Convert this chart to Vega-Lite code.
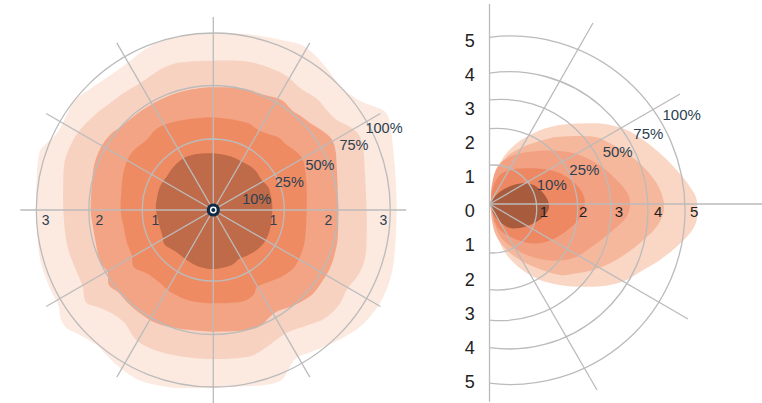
{
"$schema": "https://vega.github.io/schema/vega-lite/v6.json",
"padding": 0,
"spacing": 0,
"background": "white",
"config": {"view": {"stroke": null}, "concat": {"spacing": 0}},
"resolve": {"scale": {"x": "independent", "y": "independent", "radius": "independent", "theta": "independent"}},
"datasets": {
"L": [
{"level":"100%","i":1,"x":-3.533,"y":0},{"level":"100%","i":2,"x":-3.533,"y":0.6},{"level":"100%","i":3,"x":-3.48,"y":1.133},{"level":"100%","i":4,"x":-3.333,"y":1.333},{"level":"100%","i":5,"x":-3.1,"y":1.567},{"level":"100%","i":6,"x":-2.933,"y":1.9},{"level":"100%","i":7,"x":-2.767,"y":2.2},{"level":"100%","i":8,"x":-2.45,"y":2.43},{"level":"100%","i":9,"x":-2.05,"y":2.7},{"level":"100%","i":10,"x":-1.7,"y":2.95},{"level":"100%","i":11,"x":-1.433,"y":3.167},{"level":"100%","i":12,"x":-1.1,"y":3.347},{"level":"100%","i":13,"x":-0.533,"y":3.5},{"level":"100%","i":14,"x":0,"y":3.533},{"level":"100%","i":15,"x":0.7,"y":3.513},{"level":"100%","i":16,"x":1.367,"y":3.4},{"level":"100%","i":17,"x":1.767,"y":3.3},{"level":"100%","i":18,"x":2.0,"y":3.13},{"level":"100%","i":19,"x":2.17,"y":2.95},{"level":"100%","i":20,"x":2.33,"y":2.75},{"level":"100%","i":21,"x":2.5,"y":2.53},{"level":"100%","i":22,"x":2.68,"y":2.35},{"level":"100%","i":23,"x":2.967,"y":2.167},{"level":"100%","i":24,"x":3.233,"y":2.067},{"level":"100%","i":25,"x":3.433,"y":1.967},{"level":"100%","i":26,"x":3.533,"y":1.733},{"level":"100%","i":27,"x":3.6,"y":1.2},{"level":"100%","i":28,"x":3.647,"y":0.6},{"level":"100%","i":29,"x":3.667,"y":0},{"level":"100%","i":30,"x":3.647,"y":-0.567},{"level":"100%","i":31,"x":3.6,"y":-1.1},{"level":"100%","i":32,"x":3.5,"y":-1.5},{"level":"100%","i":33,"x":3.333,"y":-1.867},{"level":"100%","i":34,"x":3.133,"y":-2.133},{"level":"100%","i":35,"x":2.9,"y":-2.367},{"level":"100%","i":36,"x":2.633,"y":-2.533},{"level":"100%","i":37,"x":2.3,"y":-2.7},{"level":"100%","i":38,"x":1.967,"y":-2.833},{"level":"100%","i":39,"x":1.667,"y":-2.953},{"level":"100%","i":40,"x":1.513,"y":-3.167},{"level":"100%","i":41,"x":1.367,"y":-3.4},{"level":"100%","i":42,"x":1.033,"y":-3.5},{"level":"100%","i":43,"x":0.433,"y":-3.533},{"level":"100%","i":44,"x":0,"y":-3.55},{"level":"100%","i":45,"x":-0.533,"y":-3.567},{"level":"100%","i":46,"x":-0.933,"y":-3.533},{"level":"100%","i":47,"x":-1.4,"y":-3.433},{"level":"100%","i":48,"x":-1.667,"y":-3.3},{"level":"100%","i":49,"x":-1.933,"y":-3.1},{"level":"100%","i":50,"x":-2.133,"y":-2.9},{"level":"100%","i":51,"x":-2.333,"y":-2.7},{"level":"100%","i":52,"x":-2.667,"y":-2.5},{"level":"100%","i":53,"x":-2.933,"y":-2.367},{"level":"100%","i":54,"x":-3.053,"y":-2.167},{"level":"100%","i":55,"x":-3.1,"y":-1.9},{"level":"100%","i":56,"x":-3.267,"y":-1.567},{"level":"100%","i":57,"x":-3.453,"y":-1.033},{"level":"100%","i":58,"x":-3.52,"y":-0.5},
{"level":"75%","i":1,"x":-3.0,"y":0},{"level":"75%","i":2,"x":-3.0,"y":0.6},{"level":"75%","i":3,"x":-2.967,"y":1.0},{"level":"75%","i":4,"x":-2.833,"y":1.333},{"level":"75%","i":5,"x":-2.667,"y":1.6},{"level":"75%","i":6,"x":-2.333,"y":1.933},{"level":"75%","i":7,"x":-2.067,"y":2.133},{"level":"75%","i":8,"x":-1.8,"y":2.333},{"level":"75%","i":9,"x":-1.467,"y":2.533},{"level":"75%","i":10,"x":-1.133,"y":2.767},{"level":"75%","i":11,"x":-0.8,"y":2.92},{"level":"75%","i":12,"x":-0.4,"y":2.973},{"level":"75%","i":13,"x":0,"y":2.987},{"level":"75%","i":14,"x":0.7,"y":2.967},{"level":"75%","i":15,"x":1.233,"y":2.8},{"level":"75%","i":16,"x":1.5,"y":2.653},{"level":"75%","i":17,"x":1.7,"y":2.467},{"level":"75%","i":18,"x":1.9,"y":2.333},{"level":"75%","i":19,"x":2.1,"y":2.2},{"level":"75%","i":20,"x":2.267,"y":2.0},{"level":"75%","i":21,"x":2.467,"y":1.8},{"level":"75%","i":22,"x":2.733,"y":1.667},{"level":"75%","i":23,"x":2.913,"y":1.5},{"level":"75%","i":24,"x":3.0,"y":1.2},{"level":"75%","i":25,"x":3.033,"y":0.733},{"level":"75%","i":26,"x":3.067,"y":0},{"level":"75%","i":27,"x":3.067,"y":-0.567},{"level":"75%","i":28,"x":3.033,"y":-0.967},{"level":"75%","i":29,"x":2.9,"y":-1.3},{"level":"75%","i":30,"x":2.687,"y":-1.567},{"level":"75%","i":31,"x":2.513,"y":-1.9},{"level":"75%","i":32,"x":2.233,"y":-2.167},{"level":"75%","i":33,"x":1.9,"y":-2.3},{"level":"75%","i":34,"x":1.513,"y":-2.433},{"level":"75%","i":35,"x":1.3,"y":-2.567},{"level":"75%","i":36,"x":1.033,"y":-2.767},{"level":"75%","i":37,"x":0.7,"y":-2.933},{"level":"75%","i":38,"x":0.033,"y":-2.98},{"level":"75%","i":39,"x":-0.6,"y":-2.933},{"level":"75%","i":40,"x":-1.067,"y":-2.833},{"level":"75%","i":41,"x":-1.4,"y":-2.7},{"level":"75%","i":42,"x":-1.6,"y":-2.533},{"level":"75%","i":43,"x":-1.767,"y":-2.267},{"level":"75%","i":44,"x":-2.033,"y":-2.067},{"level":"75%","i":45,"x":-2.3,"y":-1.947},{"level":"75%","i":46,"x":-2.547,"y":-1.847},{"level":"75%","i":47,"x":-2.613,"y":-1.533},{"level":"75%","i":48,"x":-2.747,"y":-1.2},{"level":"75%","i":49,"x":-2.867,"y":-0.9},{"level":"75%","i":50,"x":-2.947,"y":-0.567},
{"level":"50%","i":1,"x":-2.453,"y":0},{"level":"50%","i":2,"x":-2.433,"y":0.467},{"level":"50%","i":3,"x":-2.4,"y":0.8},{"level":"50%","i":4,"x":-2.333,"y":1.067},{"level":"50%","i":5,"x":-2.2,"y":1.333},{"level":"50%","i":6,"x":-2.033,"y":1.533},{"level":"50%","i":7,"x":-1.833,"y":1.68},{"level":"50%","i":8,"x":-1.6,"y":1.867},{"level":"50%","i":9,"x":-1.333,"y":2.053},{"level":"50%","i":10,"x":-1.0,"y":2.233},{"level":"50%","i":11,"x":-0.667,"y":2.36},{"level":"50%","i":12,"x":-0.333,"y":2.427},{"level":"50%","i":13,"x":0,"y":2.453},{"level":"50%","i":14,"x":0.567,"y":2.433},{"level":"50%","i":15,"x":1.033,"y":2.3},{"level":"50%","i":16,"x":1.367,"y":2.2},{"level":"50%","i":17,"x":1.567,"y":2.0},{"level":"50%","i":18,"x":1.767,"y":1.867},{"level":"50%","i":19,"x":1.967,"y":1.72},{"level":"50%","i":20,"x":2.233,"y":1.547},{"level":"50%","i":21,"x":2.38,"y":1.4},{"level":"50%","i":22,"x":2.447,"y":1.167},{"level":"50%","i":23,"x":2.473,"y":0.8},{"level":"50%","i":24,"x":2.5,"y":0},{"level":"50%","i":25,"x":2.487,"y":-0.567},{"level":"50%","i":26,"x":2.433,"y":-0.867},{"level":"50%","i":27,"x":2.333,"y":-1.167},{"level":"50%","i":28,"x":2.167,"y":-1.447},{"level":"50%","i":29,"x":1.967,"y":-1.7},{"level":"50%","i":30,"x":1.633,"y":-1.9},{"level":"50%","i":31,"x":1.267,"y":-2.033},{"level":"50%","i":32,"x":1.1,"y":-2.167},{"level":"50%","i":33,"x":0.967,"y":-2.3},{"level":"50%","i":34,"x":0.7,"y":-2.4},{"level":"50%","i":35,"x":0.033,"y":-2.433},{"level":"50%","i":36,"x":-0.4,"y":-2.407},{"level":"50%","i":37,"x":-0.733,"y":-2.367},{"level":"50%","i":38,"x":-1.133,"y":-2.267},{"level":"50%","i":39,"x":-1.467,"y":-2.067},{"level":"50%","i":40,"x":-1.733,"y":-1.833},{"level":"50%","i":41,"x":-1.9,"y":-1.647},{"level":"50%","i":42,"x":-2.087,"y":-1.5},{"level":"50%","i":43,"x":-2.12,"y":-1.233},{"level":"50%","i":44,"x":-2.267,"y":-1.033},{"level":"50%","i":45,"x":-2.353,"y":-0.633},{"level":"50%","i":46,"x":-2.413,"y":-0.3},
{"level":"25%","i":1,"x":-1.853,"y":0},{"level":"25%","i":2,"x":-1.833,"y":0.467},{"level":"25%","i":3,"x":-1.8,"y":0.733},{"level":"25%","i":4,"x":-1.733,"y":0.967},{"level":"25%","i":5,"x":-1.6,"y":1.187},{"level":"25%","i":6,"x":-1.333,"y":1.4},{"level":"25%","i":7,"x":-1.167,"y":1.6},{"level":"25%","i":8,"x":-0.933,"y":1.72},{"level":"25%","i":9,"x":-0.6,"y":1.8},{"level":"25%","i":10,"x":-0.267,"y":1.84},{"level":"25%","i":11,"x":0,"y":1.853},{"level":"25%","i":12,"x":0.433,"y":1.8},{"level":"25%","i":13,"x":0.7,"y":1.733},{"level":"25%","i":14,"x":0.9,"y":1.6},{"level":"25%","i":15,"x":1.1,"y":1.52},{"level":"25%","i":16,"x":1.3,"y":1.453},{"level":"25%","i":17,"x":1.447,"y":1.32},{"level":"25%","i":18,"x":1.633,"y":1.187},{"level":"25%","i":19,"x":1.767,"y":1.053},{"level":"25%","i":20,"x":1.833,"y":0.833},{"level":"25%","i":21,"x":1.867,"y":0.467},{"level":"25%","i":22,"x":1.867,"y":0},{"level":"25%","i":23,"x":1.847,"y":-0.433},{"level":"25%","i":24,"x":1.813,"y":-0.7},{"level":"25%","i":25,"x":1.733,"y":-0.933},{"level":"25%","i":26,"x":1.6,"y":-1.167},{"level":"25%","i":27,"x":1.367,"y":-1.333},{"level":"25%","i":28,"x":1.033,"y":-1.467},{"level":"25%","i":29,"x":0.867,"y":-1.547},{"level":"25%","i":30,"x":0.8,"y":-1.7},{"level":"25%","i":31,"x":0.567,"y":-1.833},{"level":"25%","i":32,"x":0.033,"y":-1.867},{"level":"25%","i":33,"x":-0.267,"y":-1.847},{"level":"25%","i":34,"x":-0.533,"y":-1.793},{"level":"25%","i":35,"x":-0.867,"y":-1.633},{"level":"25%","i":36,"x":-1.133,"y":-1.407},{"level":"25%","i":37,"x":-1.333,"y":-1.267},{"level":"25%","i":38,"x":-1.587,"y":-1.147},{"level":"25%","i":39,"x":-1.633,"y":-0.9},{"level":"25%","i":40,"x":-1.733,"y":-0.633},{"level":"25%","i":41,"x":-1.8,"y":-0.3},
{"level":"10%","i":1,"x":-1.147,"y":0},{"level":"10%","i":2,"x":-1.133,"y":0.2},{"level":"10%","i":3,"x":-1.067,"y":0.467},{"level":"10%","i":4,"x":-0.933,"y":0.667},{"level":"10%","i":5,"x":-0.8,"y":0.853},{"level":"10%","i":6,"x":-0.6,"y":1.033},{"level":"10%","i":7,"x":-0.333,"y":1.12},{"level":"10%","i":8,"x":0,"y":1.133},{"level":"10%","i":9,"x":0.367,"y":1.067},{"level":"10%","i":10,"x":0.633,"y":0.933},{"level":"10%","i":11,"x":0.833,"y":0.8},{"level":"10%","i":12,"x":0.967,"y":0.6},{"level":"10%","i":13,"x":1.1,"y":0.453},{"level":"10%","i":14,"x":1.167,"y":0.2},{"level":"10%","i":15,"x":1.18,"y":0},{"level":"10%","i":16,"x":1.153,"y":-0.3},{"level":"10%","i":17,"x":1.067,"y":-0.567},{"level":"10%","i":18,"x":0.913,"y":-0.767},{"level":"10%","i":19,"x":0.7,"y":-0.9},{"level":"10%","i":20,"x":0.513,"y":-0.98},{"level":"10%","i":21,"x":0.367,"y":-1.1},{"level":"10%","i":22,"x":0.033,"y":-1.18},{"level":"10%","i":23,"x":-0.267,"y":-1.14},{"level":"10%","i":24,"x":-0.533,"y":-1.0},{"level":"10%","i":25,"x":-0.747,"y":-0.833},{"level":"10%","i":26,"x":-0.967,"y":-0.7},{"level":"10%","i":27,"x":-1.013,"y":-0.533},{"level":"10%","i":28,"x":-1.08,"y":-0.3}
],
"LR": [{"x":0,"y":0,"r":1.42},{"x":0,"y":0,"r":2.49},{"x":0,"y":0,"r":3.54}],
"LS": [{"x":-3.86,"y":0,"x2":3.86,"y2":0},{"x":-3.343,"y":-1.93,"x2":3.343,"y2":1.93},{"x":-1.93,"y":-3.343,"x2":1.93,"y2":3.343},{"x":0,"y":-3.86,"x2":0,"y2":3.86},{"x":1.93,"y":-3.343,"x2":-1.93,"y2":3.343},{"x":3.343,"y":-1.93,"x2":-3.343,"y2":1.93}],
"LT": [{"x":-3.352,"y":-0.213,"label":"3"},{"x":-2.28,"y":-0.213,"label":"2"},{"x":-1.16,"y":-0.213,"label":"1"},{"x":1.2,"y":-0.213,"label":"1"},{"x":2.3,"y":-0.213,"label":"2"},{"x":3.4,"y":-0.213,"label":"3"}],
"LP": [{"x":0.868,"y":0.2,"label":"10%"},{"x":1.52,"y":0.547,"label":"25%"},{"x":2.134,"y":0.887,"label":"50%"},{"x":2.814,"y":1.28,"label":"75%"},{"x":3.414,"y":1.613,"label":"100%"}],
"LC": [{"x":0,"y":0}],
"R": [
{"level":"100%","i":1,"x":0.031,"y":-0.071},{"level":"100%","i":2,"x":0.102,"y":0.551},{"level":"100%","i":3,"x":0.324,"y":1.173},{"level":"100%","i":4,"x":0.724,"y":1.618},{"level":"100%","i":5,"x":1.258,"y":1.929},{"level":"100%","i":6,"x":1.88,"y":2.107},{"level":"100%","i":7,"x":2.769,"y":2.151},{"level":"100%","i":8,"x":3.213,"y":2.107},{"level":"100%","i":9,"x":3.658,"y":1.973},{"level":"100%","i":10,"x":4.102,"y":1.707},{"level":"100%","i":11,"x":4.547,"y":1.351},{"level":"100%","i":12,"x":4.991,"y":0.907},{"level":"100%","i":13,"x":5.347,"y":0.462},{"level":"100%","i":14,"x":5.524,"y":0.107},{"level":"100%","i":15,"x":5.524,"y":-0.427},{"level":"100%","i":16,"x":5.347,"y":-0.782},{"level":"100%","i":17,"x":4.991,"y":-1.138},{"level":"100%","i":18,"x":4.547,"y":-1.493},{"level":"100%","i":19,"x":4.102,"y":-1.76},{"level":"100%","i":20,"x":3.658,"y":-2.027},{"level":"100%","i":21,"x":3.213,"y":-2.16},{"level":"100%","i":22,"x":2.769,"y":-2.204},{"level":"100%","i":23,"x":2.324,"y":-2.204},{"level":"100%","i":24,"x":1.88,"y":-2.16},{"level":"100%","i":25,"x":1.347,"y":-2.027},{"level":"100%","i":26,"x":0.813,"y":-1.716},{"level":"100%","i":27,"x":0.369,"y":-1.227},{"level":"100%","i":28,"x":0.147,"y":-0.604},
{"level":"75%","i":1,"x":0.058,"y":0.284},{"level":"75%","i":2,"x":0.191,"y":0.818},{"level":"75%","i":3,"x":0.458,"y":1.262},{"level":"75%","i":4,"x":0.902,"y":1.529},{"level":"75%","i":5,"x":1.436,"y":1.707},{"level":"75%","i":6,"x":1.88,"y":1.796},{"level":"75%","i":7,"x":2.769,"y":1.796},{"level":"75%","i":8,"x":3.213,"y":1.618},{"level":"75%","i":9,"x":3.658,"y":1.351},{"level":"75%","i":10,"x":4.102,"y":0.996},{"level":"75%","i":11,"x":4.458,"y":0.551},{"level":"75%","i":12,"x":4.636,"y":0.107},{"level":"75%","i":13,"x":4.636,"y":-0.249},{"level":"75%","i":14,"x":4.458,"y":-0.604},{"level":"75%","i":15,"x":4.102,"y":-0.96},{"level":"75%","i":16,"x":3.658,"y":-1.316},{"level":"75%","i":17,"x":3.213,"y":-1.582},{"level":"75%","i":18,"x":2.769,"y":-1.76},{"level":"75%","i":19,"x":2.324,"y":-1.849},{"level":"75%","i":20,"x":1.88,"y":-1.893},{"level":"75%","i":21,"x":1.347,"y":-1.742},{"level":"75%","i":22,"x":0.813,"y":-1.493},{"level":"75%","i":23,"x":0.413,"y":-1.182},{"level":"75%","i":24,"x":0.147,"y":-0.782},{"level":"75%","i":25,"x":0.04,"y":-0.249},
{"level":"50%","i":1,"x":0.04,"y":0.284},{"level":"50%","i":2,"x":0.191,"y":0.951},{"level":"50%","i":3,"x":0.547,"y":1.262},{"level":"50%","i":4,"x":1.08,"y":1.396},{"level":"50%","i":5,"x":1.791,"y":1.422},{"level":"50%","i":6,"x":2.324,"y":1.333},{"level":"50%","i":7,"x":2.858,"y":1.084},{"level":"50%","i":8,"x":3.302,"y":0.729},{"level":"50%","i":9,"x":3.658,"y":0.329},{"level":"50%","i":10,"x":3.747,"y":0.018},{"level":"50%","i":11,"x":3.658,"y":-0.338},{"level":"50%","i":12,"x":3.302,"y":-0.693},{"level":"50%","i":13,"x":2.858,"y":-1.049},{"level":"50%","i":14,"x":2.324,"y":-1.404},{"level":"50%","i":15,"x":1.791,"y":-1.511},{"level":"50%","i":16,"x":1.258,"y":-1.449},{"level":"50%","i":17,"x":0.724,"y":-1.227},{"level":"50%","i":18,"x":0.324,"y":-0.916},{"level":"50%","i":19,"x":0.102,"y":-0.427},
{"level":"25%","i":1,"x":0.058,"y":0.284},{"level":"25%","i":2,"x":0.236,"y":0.729},{"level":"25%","i":3,"x":0.547,"y":0.907},{"level":"25%","i":4,"x":1.08,"y":0.951},{"level":"25%","i":5,"x":1.613,"y":0.907},{"level":"25%","i":6,"x":1.969,"y":0.773},{"level":"25%","i":7,"x":2.324,"y":0.507},{"level":"25%","i":8,"x":2.52,"y":0.196},{"level":"25%","i":9,"x":2.52,"y":-0.116},{"level":"25%","i":10,"x":2.369,"y":-0.427},{"level":"25%","i":11,"x":1.969,"y":-0.782},{"level":"25%","i":12,"x":1.524,"y":-1.004},{"level":"25%","i":13,"x":1.08,"y":-1.049},{"level":"25%","i":14,"x":0.636,"y":-0.916},{"level":"25%","i":15,"x":0.28,"y":-0.693},{"level":"25%","i":16,"x":0.102,"y":-0.338},
{"level":"10%","i":1,"x":0.058,"y":0.062},{"level":"10%","i":2,"x":0.28,"y":0.329},{"level":"10%","i":3,"x":0.636,"y":0.507},{"level":"10%","i":4,"x":0.991,"y":0.551},{"level":"10%","i":5,"x":1.258,"y":0.462},{"level":"10%","i":6,"x":1.436,"y":0.284},{"level":"10%","i":7,"x":1.569,"y":0.062},{"level":"10%","i":8,"x":1.569,"y":-0.16},{"level":"10%","i":9,"x":1.391,"y":-0.382},{"level":"10%","i":10,"x":1.08,"y":-0.56},{"level":"10%","i":11,"x":0.724,"y":-0.649},{"level":"10%","i":12,"x":0.458,"y":-0.604},{"level":"10%","i":13,"x":0.236,"y":-0.427},{"level":"10%","i":14,"x":0.084,"y":-0.204}
],
"RR": [{"x":0.085,"y":-0.133,"r":1.173,"t0":-0.073,"t1":3.215},{"x":0.196,"y":-0.139,"r":2.156,"t0":-0.091,"t1":3.233},{"x":0.288,"y":-0.16,"r":2.952,"t0":-0.098,"t1":3.239},{"x":0.529,"y":-0.169,"r":3.697,"t0":-0.144,"t1":3.286},{"x":0.567,"y":-0.167,"r":4.647,"t0":-0.122,"t1":3.264}],
"RS": [{"x":0,"y":0,"x2":2.76,"y2":4.827},{"x":0,"y":0,"x2":5.08,"y2":2.933},{"x":0,"y":0,"x2":5.293,"y2":-3.067},{"x":0,"y":0,"x2":2.867,"y2":-4.96},{"x":0,"y":0,"x2":7.267,"y2":0},{"x":0,"y":5.333,"x2":0,"y2":-5.272}],
"RY": [{"x":-0.528,"y":4.329,"label":"5"},{"x":-0.528,"y":3.419,"label":"4"},{"x":-0.528,"y":2.509,"label":"3"},{"x":-0.528,"y":1.599,"label":"2"},{"x":-0.528,"y":0.689,"label":"1"},{"x":-0.528,"y":-0.221,"label":"0"},{"x":-0.528,"y":-1.131,"label":"1"},{"x":-0.528,"y":-2.041,"label":"2"},{"x":-0.528,"y":-2.951,"label":"3"},{"x":-0.528,"y":-3.861,"label":"4"},{"x":-0.528,"y":-4.771,"label":"5"}],
"RX": [{"x":1.453,"y":-0.205,"label":"1"},{"x":2.501,"y":-0.205,"label":"2"},{"x":3.453,"y":-0.205,"label":"3"},{"x":4.501,"y":-0.205,"label":"4"},{"x":5.461,"y":-0.205,"label":"5"}],
"RP": [{"x":1.659,"y":0.507,"label":"10%"},{"x":2.528,"y":0.907,"label":"25%"},{"x":3.418,"y":1.395,"label":"50%"},{"x":4.235,"y":1.867,"label":"75%"},{"x":5.125,"y":2.373,"label":"100%"}]
},
"hconcat": [
{
"width": 430, "height": 403,
"encoding": {
"x": {"field": "x", "type": "quantitative", "scale": {"domain": [-4.266, 4.334], "nice": false, "zero": false}, "axis": null},
"y": {"field": "y", "type": "quantitative", "scale": {"domain": [-3.86, 4.2], "nice": false, "zero": false}, "axis": null}
},
"layer": [
{"data": {"name": "L"}, "transform": [{"filter": "datum.level === '100%'"}], "mark": {"type": "line", "interpolate": "cardinal-closed", "fill": "#fce9e0", "strokeWidth": 0, "strokeOpacity": 0}, "encoding": {"order": {"field": "i", "type": "quantitative"}}},
{"data": {"name": "L"}, "transform": [{"filter": "datum.level === '75%'"}], "mark": {"type": "line", "interpolate": "cardinal-closed", "fill": "#f8d2c1", "strokeWidth": 0, "strokeOpacity": 0}, "encoding": {"order": {"field": "i", "type": "quantitative"}}},
{"data": {"name": "L"}, "transform": [{"filter": "datum.level === '50%'"}], "mark": {"type": "line", "interpolate": "cardinal-closed", "fill": "#f2a485", "strokeWidth": 0, "strokeOpacity": 0}, "encoding": {"order": {"field": "i", "type": "quantitative"}}},
{"data": {"name": "L"}, "transform": [{"filter": "datum.level === '25%'"}], "mark": {"type": "line", "interpolate": "cardinal-closed", "fill": "#ef8b63", "strokeWidth": 0, "strokeOpacity": 0}, "encoding": {"order": {"field": "i", "type": "quantitative"}}},
{"data": {"name": "L"}, "transform": [{"filter": "datum.level === '10%'"}], "mark": {"type": "line", "interpolate": "cardinal-closed", "fill": "#bf6a48", "strokeWidth": 0, "strokeOpacity": 0}, "encoding": {"order": {"field": "i", "type": "quantitative"}}},
{"data": {"name": "LR"}, "mark": {"type": "arc", "filled": false, "stroke": "#bbbbbb", "strokeWidth": 1.3, "theta": 0, "theta2": 6.2832}, "encoding": {"radius": {"field": "r", "type": "quantitative", "scale": {"type": "linear", "domain": [0, 4], "range": [0, 200]}}, "radius2": {"field": "r"}}},
{"data": {"name": "LS"}, "mark": {"type": "rule", "stroke": "#bbbbbb", "strokeWidth": 1.3}, "encoding": {"x2": {"field": "x2"}, "y2": {"field": "y2"}}},
{"data": {"name": "LT"}, "mark": {"type": "text", "font": "Liberation Sans", "fontSize": 14, "fill": "#2d3f50", "align": "center", "baseline": "middle"}, "encoding": {"text": {"field": "label", "type": "nominal"}}},
{"data": {"name": "LP"}, "mark": {"type": "text", "font": "Liberation Sans", "fontSize": 14.5, "fill": "#2d3f50", "align": "center", "baseline": "middle"}, "encoding": {"text": {"field": "label", "type": "nominal"}}},
{"data": {"name": "LC"}, "mark": {"type": "point", "shape": "circle", "filled": true, "fill": "white", "stroke": "#0f2b46", "strokeWidth": 3.2, "size": 100, "opacity": 1}},
{"data": {"name": "LC"}, "mark": {"type": "point", "shape": "circle", "filled": true, "fill": "#0f2b46", "strokeWidth": 0, "size": 16, "opacity": 1}}
]
},
{
"width": 332, "height": 403,
"encoding": {
"x": {"field": "x", "type": "quantitative", "scale": {"domain": [-1.587, 7.267], "nice": false, "zero": false}, "axis": null},
"y": {"field": "y", "type": "quantitative", "scale": {"domain": [-5.307, 5.44], "nice": false, "zero": false}, "axis": null}
},
"layer": [
{"data": {"name": "R"}, "transform": [{"filter": "datum.level === '100%'"}], "mark": {"type": "line", "interpolate": "cardinal-closed", "fill": "#fad6c5", "strokeWidth": 0, "strokeOpacity": 0}, "encoding": {"order": {"field": "i", "type": "quantitative"}}},
{"data": {"name": "R"}, "transform": [{"filter": "datum.level === '75%'"}], "mark": {"type": "line", "interpolate": "cardinal-closed", "fill": "#f5b89d", "strokeWidth": 0, "strokeOpacity": 0}, "encoding": {"order": {"field": "i", "type": "quantitative"}}},
{"data": {"name": "R"}, "transform": [{"filter": "datum.level === '50%'"}], "mark": {"type": "line", "interpolate": "cardinal-closed", "fill": "#f2a283", "strokeWidth": 0, "strokeOpacity": 0}, "encoding": {"order": {"field": "i", "type": "quantitative"}}},
{"data": {"name": "R"}, "transform": [{"filter": "datum.level === '25%'"}], "mark": {"type": "line", "interpolate": "cardinal-closed", "fill": "#ee8863", "strokeWidth": 0, "strokeOpacity": 0}, "encoding": {"order": {"field": "i", "type": "quantitative"}}},
{"data": {"name": "R"}, "transform": [{"filter": "datum.level === '10%'"}], "mark": {"type": "line", "interpolate": "cardinal-closed", "fill": "#a85c3d", "strokeWidth": 0, "strokeOpacity": 0}, "encoding": {"order": {"field": "i", "type": "quantitative"}}},
{"data": {"name": "RR"}, "mark": {"type": "arc", "filled": false, "stroke": "#bbbbbb", "strokeWidth": 1.3}, "encoding": {"theta": {"field": "t0", "type": "quantitative", "scale": {"type": "linear", "domain": [-3.1416, 3.1416], "range": [-3.1416, 3.1416]}}, "theta2": {"field": "t1"}, "radius": {"field": "r", "type": "quantitative", "scale": {"type": "linear", "domain": [0, 6], "range": [0, 225]}}, "radius2": {"field": "r"}}},
{"data": {"name": "RS"}, "mark": {"type": "rule", "stroke": "#bbbbbb", "strokeWidth": 1.3}, "encoding": {"x2": {"field": "x2"}, "y2": {"field": "y2"}}},
{"data": {"name": "RY"}, "mark": {"type": "text", "font": "Liberation Sans", "fontSize": 18, "fill": "#222222", "align": "center", "baseline": "middle"}, "encoding": {"text": {"field": "label", "type": "nominal"}}},
{"data": {"name": "RX"}, "mark": {"type": "text", "font": "Liberation Sans", "fontSize": 15, "fill": "#222222", "align": "center", "baseline": "middle"}, "encoding": {"text": {"field": "label", "type": "nominal"}}},
{"data": {"name": "RP"}, "mark": {"type": "text", "font": "Liberation Sans", "fontSize": 15, "fill": "#2d3f50", "align": "center", "baseline": "middle"}, "encoding": {"text": {"field": "label", "type": "nominal"}}}
]
}
]
}
